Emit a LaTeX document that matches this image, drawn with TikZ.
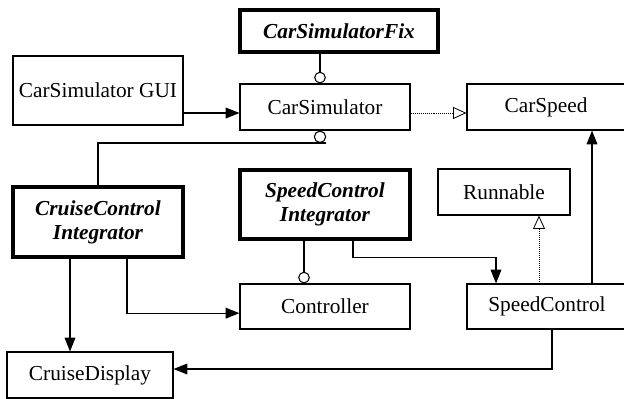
\documentclass[tikz,border=0pt]{standalone}
\usepackage{fontspec}
\setmainfont{Liberation Serif}
\usetikzlibrary{arrows.meta, positioning}

\begin{document}
\begin{tikzpicture}[x=0.03cm, y=-0.03cm,
    box/.style={rectangle, draw=black, line width=1pt, align=center, inner sep=0pt, minimum width=5.1cm, minimum height=1.38cm, font=\fontsize{18.2}{20.5}\selectfont},
    fixbox/.style={box, line width=2.6pt, font=\fontsize{18.2}{20.5}\selectfont\bfseries\itshape},
    line/.style={draw, line width=0.9pt, -{Triangle[length=0.41cm, width=0.32cm]}},
    realize/.style={draw, line width=0.7pt, densely dotted, -{Triangle[open, length=0.4cm, width=0.36cm]}},
    plug/.style={draw, line width=0.9pt, -{Circle[open, length=0.35cm]}},
    socket/.style={circle, draw, line width=0.9pt, inner sep=0pt, minimum size=0.34cm}]
    \useasboundingbox (0,0) rectangle (624,399);
    \node [box, minimum height=2.07cm] (gui) at (98,90.5) {CarSimulator GUI};
    \node [box] (sim) at (325,107) {CarSimulator};
    \node [fixbox, minimum width=5.94cm, minimum height=1.26cm] (fix) at (339,31) {CarSimulatorFix};
    \node [box, minimum width=4.74cm] (speed) at (546,107) {CarSpeed};
    \node [box, minimum width=3.96cm] (run) at (504,192) {Runnable};
    \node [fixbox, minimum height=2.07cm] (sci) at (325,204.5) {SpeedControl\\Integrator};
    \node [fixbox, minimum height=2.1cm] (cci) at (98,222) {CruiseControl\\Integrator};
    \node [box, minimum height=1.35cm] (ctrl) at (325,306.5) {Controller};
    \node [box, minimum width=4.8cm, minimum height=1.35cm] (sc) at (547,306.5) {SpeedControl};
    \node [box, minimum width=4.98cm] (disp) at (90,375) {CruiseDisplay};
    \node [socket, anchor=north] (sock) at ([xshift=-0.15cm]sim.south) {};
    \coordinate (guiin) at ([yshift=-0.18cm]sim.west);
    \path [line] (gui.east |- guiin) -- (guiin);
    \path [realize] ([yshift=-0.18cm]sim.east) -- ([yshift=-0.18cm]speed.west);
    \path [plug] ([xshift=-0.15cm]sim.north |- fix.south) -- ([xshift=-0.15cm]sim.north);
    \draw [line width=0.9pt] (sock.south -| sock.east) -| (cci.north);
    \path [line] ([xshift=-0.84cm]cci.south) -- ([xshift=-0.84cm]cci.south |- disp.north);
    \path [line] ([xshift=0.87cm]cci.south) |- ([yshift=-0.2cm]ctrl.west);
    \path [plug] ([xshift=-0.63cm]sci.south) -- ([xshift=-0.63cm]ctrl.north);
    \path [line] ([xshift=0.84cm]sci.south) -- ++(0,17) -| ([xshift=-1.53cm]sc.north);
    \path [realize] ([xshift=-0.24cm]sc.north) -- ([xshift=-0.24cm]sc.north |- run.south);
    \path [line] ([xshift=1.35cm]sc.north) -- ([xshift=1.35cm]sc.north |- speed.south);
    \path [line] ([xshift=0.15cm]sc.south) |- ([yshift=0.18cm]disp.east);
\end{tikzpicture}
\end{document}
